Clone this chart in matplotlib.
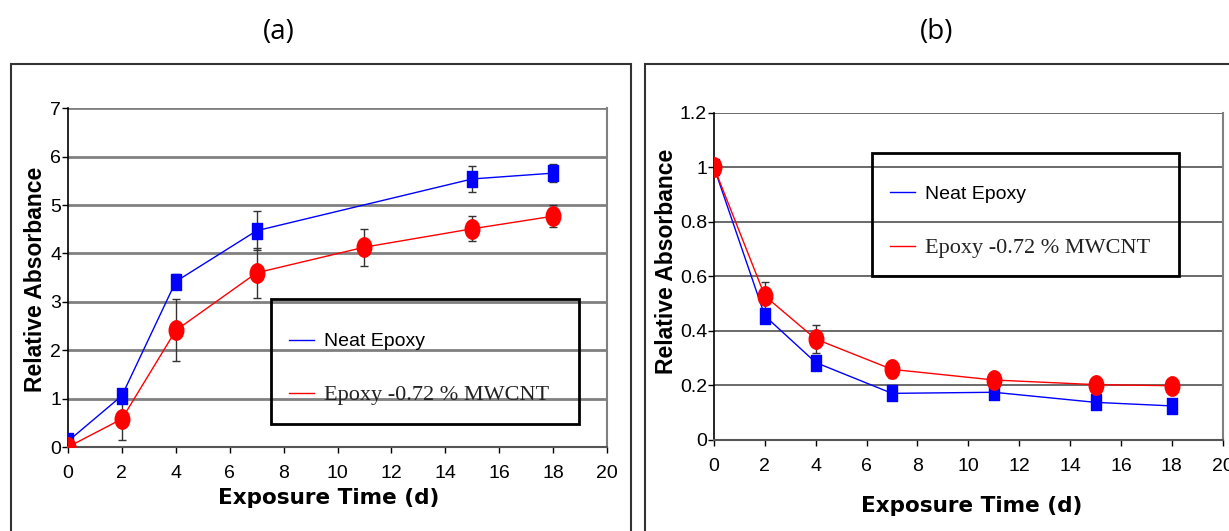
import matplotlib.pyplot as plt
import numpy as np
from matplotlib.patches import Rectangle
from matplotlib.path import Path
from matplotlib.transforms import Affine2D

# exposure time (days)
days = [0, 2, 4, 7, 11, 15, 18]

# (a) relative absorbance - neat epoxy has no point at day 11
neatA_days = [0, 2, 4, 7, 15, 18]
neatA = [0.12, 1.06, 3.42, 4.47, 5.54, 5.66]
neatA_err = [0.05, 0.08, 0.16, 0.40, 0.26, 0.19]
cntA = [0.0, 0.58, 2.41, 3.60, 4.13, 4.51, 4.77]
cntA_err = [0.03, 0.43, 0.64, 0.52, 0.38, 0.26, 0.23]

# (b) relative absorbance
neatB = [1.0, 0.455, 0.284, 0.171, 0.175, 0.138, 0.125]
neatB_err = [0.0, 0.02, 0.02, 0.01, 0.015, 0.01, 0.01]
cntB = [1.0, 0.528, 0.37, 0.259, 0.22, 0.203, 0.199]
cntB_err = [0.0, 0.053, 0.05, 0.03, 0.01, 0.01, 0.01]

xticks = np.arange(0, 21, 2)
labels = ['Neat Epoxy', 'Epoxy -0.72 % MWCNT']

W, H = 1229, 531
fig = plt.figure(figsize=(W / 100, H / 100), dpi=100)

# tall markers like the excel originals
ellipse = Path.unit_circle().transformed(Affine2D().scale(0.75, 1.0))
tallsq = Path.unit_rectangle().transformed(Affine2D().translate(-0.5, -0.5).scale(0.68, 1.0))


def px(x0, y0, x1, y1):
    # pixel box (top-left origin) -> figure fraction rect
    return [x0 / W, 1 - y1 / H, (x1 - x0) / W, (y1 - y0) / H]


def frame(x0, y0, x1, y1, lw=1.5, ec='#333333'):
    r = Rectangle((x0 / W, 1 - y1 / H), (x1 - x0) / W, (y1 - y0) / H,
                  transform=fig.transFigure, fill=False, ec=ec, lw=lw, zorder=5)
    fig.patches.append(r)


# outer panel frames
frame(11, 64, 631, 560)
frame(645, 64, 1260, 560)


def style_axes(ax, ymax, ystep, yfmt, gridc, gridw):
    ax.set_xlim(0, 20)
    ax.set_ylim(0, ymax)
    ax.set_xticks(xticks)
    yt = np.arange(0, ymax + ystep / 2, ystep)
    ax.set_yticks(yt)
    ax.set_yticklabels([yfmt(v) for v in yt])
    for v in yt[1:]:
        ax.axhline(v, color=gridc, lw=gridw, zorder=0)
    ax.spines['top'].set_visible(False)
    ax.spines['right'].set_color('#808080')
    ax.spines['right'].set_linewidth(1.5)
    ax.spines['bottom'].set_color('#555555')
    ax.spines['bottom'].set_linewidth(1.5)
    ax.spines['left'].set_color('black')
    ax.spines['left'].set_linewidth(1.2)
    ax.tick_params(direction='out', length=4, width=1, labelsize=14, colors='black')
    ax.tick_params(axis='x', pad=9)
    ax.tick_params(axis='y', pad=1)
    for t in ax.get_xticklabels() + ax.get_yticklabels():
        t.set_fontfamily('Liberation Sans')
    ax.set_ylabel('Relative Absorbance', fontsize=16.5, fontweight='bold',
                  family='Liberation Sans')
    ax.set_xlabel('Exposure Time (d)', fontsize=15.5, fontweight='bold',
                  family='DejaVu Sans', va='center')


def add_legend(ax, box, hx, cy):
    frame(*box, lw=2, ec='black')
    handles = [plt.Line2D([], [], color='blue', lw=1),
               plt.Line2D([], [], color='red', lw=1)]
    leg = ax.legend(handles, labels, loc='center left',
                    bbox_to_anchor=(hx / W, 1 - cy / H),
                    bbox_transform=fig.transFigure, frameon=False,
                    fontsize=14, handlelength=1.3, handletextpad=0.5,
                    borderpad=0, labelspacing=1.85, borderaxespad=0)
    leg.set_zorder(6)
    t = leg.get_texts()
    t[0].set_fontfamily('Liberation Sans')
    t[1].set_fontfamily('Liberation Serif')
    t[1].set_fontsize(16)
    t[1].set_color('#222222')
    return leg


def plot_series(ax, xn, yn, en, yc, ec):
    ax.errorbar(xn, yn, yerr=en, color='blue', lw=1, marker=tallsq, ms=11,
                ecolor='#333333', elinewidth=1, capsize=3, capthick=1, zorder=3)
    ax.errorbar(days, yc, yerr=ec, color='red', lw=1, marker=ellipse, ms=14,
                ecolor='#333333', elinewidth=1, capsize=3, capthick=1, zorder=3)


# ---- panel (a)
axA = fig.add_axes(px(68, 108.3, 607, 447))
plot_series(axA, neatA_days, neatA, neatA_err, cntA, cntA_err)
style_axes(axA, 7, 1, lambda v: '%d' % v, '#808080', 2)
axA.yaxis.set_label_coords(-0.039, 0.496)
axA.xaxis.set_label_coords(0.484, -0.151)
add_legend(axA, (271, 299, 579, 424), 289, 369)

# ---- panel (b)
axB = fig.add_axes(px(714, 112.7, 1222.7, 440))
plot_series(axB, days, neatB, neatB_err, cntB, cntB_err)
style_axes(axB, 1.2, 0.2, lambda v: '0' if v == 0 else ('%g' % round(v, 1)), '#505050', 1.2)
axB.yaxis.set_label_coords(-0.07, 0.547)
axB.xaxis.set_label_coords(0.507, -0.2017)
add_legend(axB, (872, 153, 1179, 276), 890, 221.5)

# panel titles
fig.text(279 / W, 1 - 32 / H, '(a)', fontsize=20, family='Open Sans',
         ha='center', va='center')
fig.text(937 / W, 1 - 32 / H, '(b)', fontsize=20, family='Open Sans',
         ha='center', va='center')

fig.savefig('out.png', dpi=100)
